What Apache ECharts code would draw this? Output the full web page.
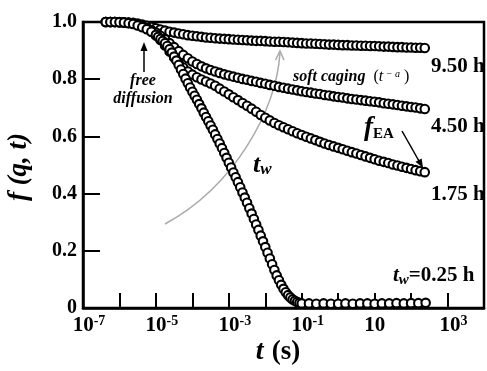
<!DOCTYPE html>
<html>
<head>
<meta charset="utf-8">
<script src="https://cdn.jsdelivr.net/npm/echarts@6/dist/echarts.min.js"></script>
<style>html,body{margin:0;padding:0;background:#fff}</style>
</head>
<body>
<div id="main" style="width:487px;height:371px"></div>
<script>
// time grid (s) shared by the three aged samples, 8 points / decade
const tAged = [
  4.22e-7, 5.62e-7, 7.5e-7,
  1e-6, 1.33e-6, 1.78e-6, 2.37e-6, 3.16e-6, 4.22e-6, 5.62e-6, 7.5e-6,
  1e-5, 1.33e-5, 1.78e-5, 2.37e-5, 3.16e-5, 4.22e-5, 5.62e-5, 7.5e-5,
  1e-4, 1.33e-4, 1.78e-4, 2.37e-4, 3.16e-4, 4.22e-4, 5.62e-4, 7.5e-4,
  1e-3, 1.33e-3, 1.78e-3, 2.37e-3, 3.16e-3, 4.22e-3, 5.62e-3, 7.5e-3,
  0.01, 0.0133, 0.0178, 0.0237, 0.0316, 0.0422, 0.0562, 0.075,
  0.1, 0.133, 0.178, 0.237, 0.316, 0.422, 0.562, 0.75,
  1, 1.33, 1.78, 2.37, 3.16, 4.22, 5.62, 7.5,
  10, 13.3, 17.8, 23.7, 31.6, 42.2, 56.2, 75,
  100, 133, 178, 237
]
// f(q,t) for t_w = 9.50 h
const f950 = [
  1.0, 1.0, 1.0,
  1.0, 0.999, 0.998, 0.997, 0.995, 0.991, 0.987, 0.983,
  0.978, 0.974, 0.970, 0.966, 0.963, 0.960, 0.957, 0.954,
  0.952, 0.950, 0.948, 0.946, 0.945, 0.943, 0.942, 0.941,
  0.940, 0.939, 0.938, 0.937, 0.936, 0.935, 0.934, 0.934,
  0.933, 0.932, 0.931, 0.931, 0.930, 0.929, 0.928, 0.927,
  0.926, 0.925, 0.925, 0.924, 0.923, 0.922, 0.921, 0.921,
  0.920, 0.919, 0.919, 0.918, 0.918, 0.917, 0.917, 0.916,
  0.916, 0.915, 0.914, 0.914, 0.913, 0.912, 0.912, 0.911,
  0.911, 0.910, 0.910, 0.909
]
// f(q,t) for t_w = 4.50 h
const f450 = [
  1.0, 1.0, 1.0,
  0.999, 0.998, 0.997, 0.995, 0.992, 0.987, 0.980, 0.972,
  0.963, 0.952, 0.940, 0.926, 0.912, 0.898, 0.885, 0.873,
  0.862, 0.853, 0.845, 0.838, 0.832, 0.827, 0.822, 0.817,
  0.813, 0.809, 0.805, 0.801, 0.798, 0.794, 0.791, 0.787,
  0.784, 0.780, 0.777, 0.773, 0.770, 0.767, 0.764, 0.761,
  0.758, 0.755, 0.753, 0.750, 0.748, 0.745, 0.743, 0.740,
  0.738, 0.736, 0.733, 0.731, 0.729, 0.727, 0.725, 0.723,
  0.721, 0.719, 0.716, 0.714, 0.712, 0.710, 0.707, 0.705,
  0.703, 0.701, 0.698, 0.696
]
// f(q,t) for t_w = 1.75 h
const f175 = [
  1.0, 1.0, 1.0,
  0.999, 0.998, 0.997, 0.994, 0.990, 0.984, 0.977, 0.966,
  0.953, 0.937, 0.918, 0.897, 0.876, 0.857, 0.841, 0.827,
  0.816, 0.807, 0.799, 0.792, 0.785, 0.777, 0.767, 0.757,
  0.747, 0.737, 0.727, 0.717, 0.707, 0.697, 0.686, 0.675,
  0.665, 0.656, 0.647, 0.639, 0.632, 0.625, 0.618, 0.611,
  0.605, 0.599, 0.593, 0.587, 0.581, 0.575, 0.570, 0.565,
  0.560, 0.555, 0.550, 0.545, 0.540, 0.535, 0.530, 0.525,
  0.520, 0.515, 0.511, 0.507, 0.502, 0.498, 0.494, 0.490,
  0.486, 0.482, 0.478, 0.475
]
// t_w = 0.25 h : denser sampling through the decay, sparse on the floor
const t025 = [
  4.22e-7, 5.62e-7, 7.5e-7, 1e-6, 1.33e-6, 1.78e-6, 2.37e-6, 3.16e-6, 4.22e-6, 5.62e-6, 7.5e-6,
  1e-5, 1.155e-5, 1.334e-5, 1.54e-5, 1.778e-5, 2.054e-5, 2.371e-5, 2.738e-5,
  3.162e-5, 3.652e-5, 4.217e-5, 4.87e-5, 5.623e-5, 6.494e-5, 7.499e-5, 8.66e-5,
  1e-4, 1.155e-4, 1.334e-4, 1.54e-4, 1.778e-4, 2.054e-4, 2.371e-4, 2.738e-4,
  3.162e-4, 3.652e-4, 4.217e-4, 4.87e-4, 5.623e-4, 6.494e-4, 7.499e-4, 8.66e-4,
  1e-3, 1.155e-3, 1.334e-3, 1.54e-3, 1.778e-3, 2.054e-3, 2.371e-3, 2.738e-3,
  3.162e-3, 3.652e-3, 4.217e-3, 4.87e-3, 5.623e-3, 6.494e-3, 7.499e-3, 8.66e-3,
  0.01, 0.01155, 0.01334, 0.0154, 0.01778, 0.02054, 0.02371, 0.02738,
  0.03162, 0.03652, 0.04217, 0.0487, 0.05623, 0.06494, 0.07499, 0.0866,
  0.1,
  0.158, 0.251, 0.398, 0.631, 1, 1.58, 2.51, 3.98, 6.31,
  10, 15.8, 25.1, 39.8, 63.1, 100, 158, 251
]
const f025 = [
  1.0, 1.0, 1.0, 0.999, 0.998, 0.996, 0.993, 0.988, 0.982, 0.975, 0.966,
  0.955, 0.948, 0.941, 0.934, 0.926, 0.916, 0.905, 0.893,
  0.879, 0.865, 0.850, 0.834, 0.818, 0.802, 0.786, 0.771,
  0.756, 0.742, 0.728, 0.713, 0.698, 0.683, 0.668, 0.653,
  0.638, 0.623, 0.607, 0.591, 0.575, 0.559, 0.542, 0.525,
  0.508, 0.491, 0.474, 0.457, 0.440, 0.422, 0.404, 0.386,
  0.368, 0.349, 0.330, 0.311, 0.292, 0.273, 0.253, 0.233,
  0.213, 0.193, 0.173, 0.153, 0.133, 0.114, 0.097, 0.081,
  0.067, 0.055, 0.045, 0.037, 0.030, 0.025, 0.021, 0.018,
  0.016,
  0.016, 0.015, 0.016, 0.015, 0.015, 0.016, 0.015, 0.016, 0.016,
  0.015, 0.016, 0.016, 0.017, 0.016, 0.017, 0.017, 0.018
]
// decades that carry a label on the time axis
const xLabelExps = [-7, -5, -3, -1, 1, 3]

const SERIF = '"Liberation Serif", "DejaVu Serif", serif'
const chart = echarts.init(document.getElementById('main'))

function pairs(ts, fs) {
  return ts.map(function(t, i) { return [t, fs[i]] })
}

function openCircles(name, data) {
  return {
    name: name,
    type: 'scatter',
    data: data,
    symbol: 'circle',
    symbolSize: 8.5,
    itemStyle: { color: '#fff', borderColor: '#000', borderWidth: 2.1, opacity: 1 },
    emphasis: { disabled: true },
    silent: true
  }
}

const option = {
  animation: false,
  grid: {
    left: 83, top: 22, bottom: 63, right: -3,
    show: true, borderColor: '#000', borderWidth: 2.5
  },
  xAxis: {
    type: 'log',
    logBase: 10,
    min: 1e-7,
    max: 1e4,
    interval: 1,
    axisLine: { lineStyle: { color: '#000', width: 2.5 } },
    axisTick: { inside: true, length: 15, lineStyle: { color: '#000', width: 2 } },
    splitLine: { show: false },
    axisLabel: {
      margin: 6,
      formatter: function(v) {
        const e = Math.round(Math.log10(v))
        if (xLabelExps.indexOf(e) < 0) return ''
        if (e === 1) return '{b|10}'
        return '{bs|10}{sup|' + e + '}'
      },
      rich: {
        b: { fontFamily: SERIF, fontWeight: 'bold', fontSize: 21, color: '#000', lineHeight: 24 },
        bs: { fontFamily: SERIF, fontWeight: 'bold', fontSize: 21, color: '#000', lineHeight: 24, padding: [0, 0, 0, 12] },
        sup: { fontFamily: SERIF, fontWeight: 'bold', fontSize: 14, color: '#000', verticalAlign: 'top', lineHeight: 14 }
      }
    }
  },
  yAxis: {
    type: 'value',
    min: 0,
    max: 1,
    interval: 0.2,
    axisLine: { show: true, lineStyle: { color: '#000', width: 2.5 } },
    axisTick: { show: true, inside: true, length: 17, lineStyle: { color: '#000', width: 2 } },
    splitLine: { show: false },
    axisLabel: {
      margin: 6,
      color: '#000',
      fontFamily: SERIF,
      fontWeight: 'bold',
      fontSize: 20,
      formatter: function(v) { return v === 0 ? '0' : v.toFixed(1) }
    }
  },
  series: [
    openCircles('9.50 h', pairs(tAged, f950)),
    openCircles('4.50 h', pairs(tAged, f450)),
    openCircles('1.75 h', pairs(tAged, f175)),
    openCircles('0.25 h', pairs(t025, f025))
  ],
  graphic: [
    // axis titles
    {
      type: 'text', x: 19, y: 167, rotation: Math.PI / 2,
      style: {
        text: 'f (q, t)', font: 'italic bold 27px ' + SERIF, fill: '#000',
        textAlign: 'center', textVerticalAlign: 'middle'
      }
    },
    {
      type: 'text', x: 278, y: 352,
      style: {
        text: '{i|t} {b|(s)}', textAlign: 'center', textVerticalAlign: 'middle',
        rich: {
          i: { font: 'italic bold 28px ' + SERIF, fill: '#000' },
          b: { font: 'bold 27px ' + SERIF, fill: '#000', padding: [0, 0, 0, 5] }
        }
      }
    },
    // free diffusion arrow
    { type: 'line', shape: { x1: 144, y1: 72, x2: 144, y2: 49 }, style: { stroke: '#000', lineWidth: 1.5 } },
    { type: 'polygon', shape: { points: [[144, 42], [140.5, 51], [147.5, 51]] }, style: { fill: '#000' } },
    {
      type: 'text', x: 143, y: 81,
      style: { text: 'free', font: 'italic bold 16px ' + SERIF, fill: '#000', textAlign: 'center', textVerticalAlign: 'middle' }
    },
    {
      type: 'text', x: 143, y: 99,
      style: { text: 'diffusion', font: 'italic bold 16px ' + SERIF, fill: '#000', textAlign: 'center', textVerticalAlign: 'middle' }
    },
    // grey ageing arrow
    {
      type: 'bezierCurve',
      shape: { x1: 165, y1: 224, cpx1: 235, cpy1: 186, cpx2: 276, cpy2: 110, x2: 280, y2: 53 },
      style: { stroke: '#aaa', lineWidth: 1.5, fill: null }
    },
    { type: 'polyline', shape: { points: [[275.5, 60], [280, 51], [284, 60]] }, style: { stroke: '#aaa', lineWidth: 1.5, fill: null } },
    {
      type: 'text', x: 253, y: 165,
      style: {
        text: '{t|t}{w|w}', textVerticalAlign: 'middle',
        rich: {
          t: { font: 'italic bold 26px ' + SERIF, fill: '#000' },
          w: { font: 'italic bold 17px ' + SERIF, fill: '#000', verticalAlign: 'bottom', padding: [10, 0, 0, 0] }
        }
      }
    },
    // soft caging
    {
      type: 'text', x: 293, y: 77,
      style: {
        text: '{s|soft caging}{p|  (}{t|t}{sup| \u2212 a}{p| )}', textVerticalAlign: 'middle',
        rich: {
          s: { font: 'italic bold 16px ' + SERIF, fill: '#000' },
          p: { font: '16px ' + SERIF, fill: '#000' },
          t: { font: 'italic 16px ' + SERIF, fill: '#000' },
          sup: { font: 'italic 10px ' + SERIF, fill: '#000', verticalAlign: 'top' }
        }
      }
    },
    // f_EA arrow
    {
      type: 'text', x: 364, y: 128,
      style: {
        text: '{f|f}{s|EA}', textVerticalAlign: 'middle',
        rich: {
          f: { font: 'italic bold 27px ' + SERIF, fill: '#000' },
          s: { font: 'bold 15px ' + SERIF, fill: '#000', verticalAlign: 'bottom', padding: [8, 0, 0, 0] }
        }
      }
    },
    { type: 'line', shape: { x1: 402, y1: 131, x2: 419, y2: 161 }, style: { stroke: '#000', lineWidth: 1.5 } },
    { type: 'polygon', shape: { points: [[423, 168], [421.7, 158.4], [415.5, 161.8]] }, style: { fill: '#000' } },
    // waiting-time labels
    { type: 'text', x: 431, y: 67, style: { text: '9.50 h', font: 'bold 21px ' + SERIF, fill: '#000', textVerticalAlign: 'middle' } },
    { type: 'text', x: 431, y: 127, style: { text: '4.50 h', font: 'bold 21px ' + SERIF, fill: '#000', textVerticalAlign: 'middle' } },
    { type: 'text', x: 431, y: 195, style: { text: '1.75 h', font: 'bold 21px ' + SERIF, fill: '#000', textVerticalAlign: 'middle' } },
    {
      type: 'text', x: 393, y: 276,
      style: {
        text: '{t|t}{w|w}{b|=0.25 h}', textVerticalAlign: 'middle',
        rich: {
          t: { font: 'italic bold 21px ' + SERIF, fill: '#000' },
          w: { font: 'italic bold 15px ' + SERIF, fill: '#000', verticalAlign: 'bottom', padding: [8, 0, 0, 0] },
          b: { font: 'bold 21px ' + SERIF, fill: '#000' }
        }
      }
    }
  ]
}

chart.setOption(option)
</script>
</body>
</html>
